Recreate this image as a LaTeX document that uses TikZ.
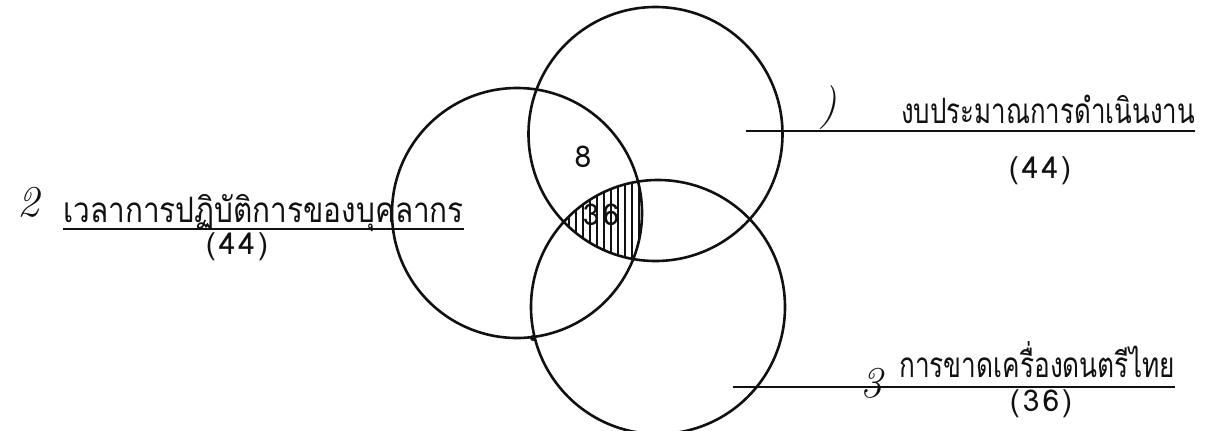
\documentclass[tikz,border=0pt]{standalone}
\usepackage{fontspec}
\usetikzlibrary{positioning}
\newfontfamily\thaifont[Script=Thai]{Loma}
\newfontfamily\countfont[Script=Thai, LetterSpace=10]{Loma}
\definecolor{ink}{HTML}{111111}
\tikzset{
  every node/.style={text=ink},
  set/.style={draw=ink, circle, line width=2.6pt, inner sep=0pt},
  settitle/.style={font=\thaifont\fontsize{35}{38}\selectfont, inner sep=0pt, anchor=base west},
  count/.style={font=\countfont\fontsize{30}{32}\selectfont, inner sep=0pt},
  leader/.style={line width=1.8pt, draw=ink},
  hatch/.style={line width=1.1pt, draw=ink},
  handmark/.style={font=\itshape\fontsize{44}{46}\selectfont, inner sep=0pt},
}
\begin{document}
\begin{tikzpicture}[x=1pt,y=-1pt]
\useasboundingbox (0,0) rectangle (1224,431);
% the three sets
\node[set, minimum size=250pt] (staff) at (517,213) {};
\node[set, minimum size=254pt] (budget) at (655.5,134) {};
\node[set, minimum size=254pt] (instr) at (658,307) {};
% common part, hatched
\begin{scope}
  \clip (517,213) circle (125pt);
  \clip (655.5,134) circle (127pt);
  \clip (658,307) circle (127pt);
  \foreach \x in {562,569,...,645} \draw[hatch] (\x,170) -- (\x,265);
\end{scope}
\fill[ink] (533,338) circle (3pt);
\node[count] (two) at (583,157) {8};
\node[count] (all) at (601,215) {36};
% labels
\node[settitle] (stafflabel) at (63,222) {\scalebox{0.85}[1]{เวลาการปฏิบัติการของบุคลากร}};
\node[count] (staffn) at (237,247) {(44)};
\draw[leader] ([yshift=-7pt]stafflabel.base west) -- ([yshift=-7pt]stafflabel.base east);
\node[settitle] (budgetlabel) at (901,123) {\scalebox{0.74}[1]{งบประมาณการดำเนินงาน}};
\node[count] (budgetn) at (1040,171) {(44)};
\coordinate (budgetin) at (746,131);
\draw[leader] (budgetin) -- ([yshift=-8pt]budgetlabel.base east);
\node[settitle] (instrlabel) at (899,377) {\scalebox{0.75}[1]{การขาดเครื่องดนตรีไทย}};
\node[count] (instrn) at (1041,404) {(36)};
\coordinate (instrin) at (733,387);
\draw[leader] (instrin) -- ([yshift=-10pt]instrlabel.base east);
% hand numbering
\node[handmark] (m1) at (828,108) {)};
\node[handmark] (m2) at (28,202) {2};
\node[handmark] (m3) at (871,383) {3};
\end{tikzpicture}
\end{document}
